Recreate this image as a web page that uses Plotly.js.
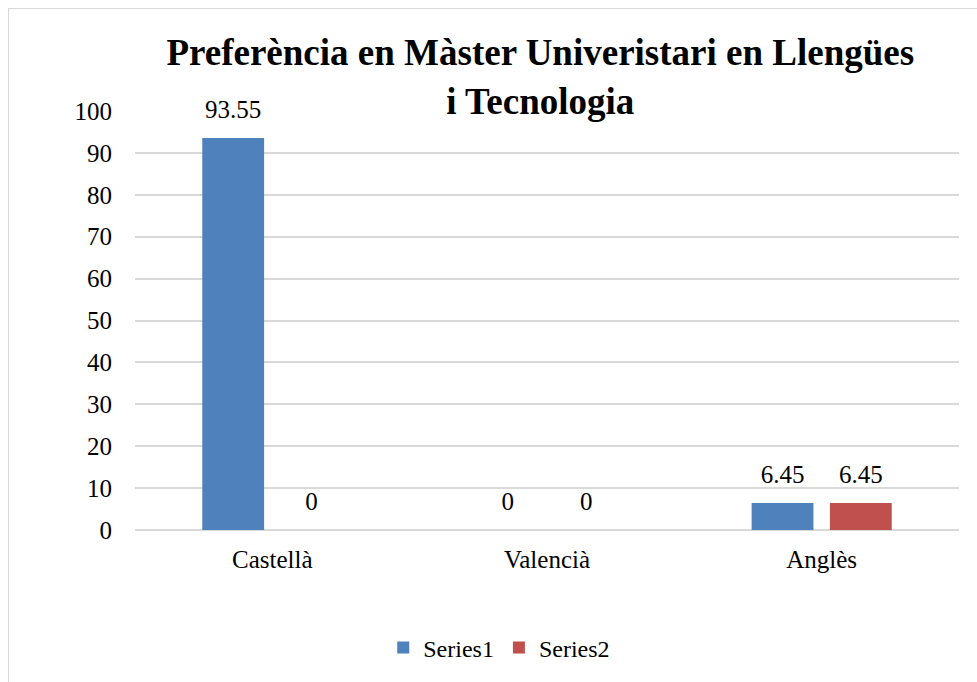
<!DOCTYPE html>
<html>
<head>
<meta charset="utf-8">
<script src="https://cdn.plot.ly/plotly-3.0.1.min.js"></script>
<style>
  html, body { margin: 0; padding: 0; background: #fff; overflow: hidden; }
  #chart { position: absolute; left: 0; top: 0; width: 977px; height: 682px; }
  #frame { position: absolute; left: 8px; top: 8px; width: 1000px; height: 700px; border: 1px solid #d9d9d9; pointer-events: none; }
</style>
</head>
<body>
<div id="chart"></div>
<div id="frame"></div>
<script>
const categories = ["Castellà", "Valencià", "Anglès"];
const series1 = [93.55, 0, 6.45];
const series2 = [0, 0, 6.45];
const seriesNames = ["Series1", "Series2"];
const seriesColors = ["#4F81BD", "#C0504D"];
const yTicks = [0, 10, 20, 30, 40, 50, 60, 70, 80, 90, 100];
const titleText = "Preferència en Màster Univeristari en Llengües<br>i Tecnologia";

const FONT = "Liberation Serif";

const barTraces = [series1, series2].map((vals, i) => ({
  type: "bar",
  name: seriesNames[i],
  x: categories,
  y: vals,
  offsetgroup: String(i),
  marker: { color: seriesColors[i] },
  hoverinfo: "x+y"
}));

const labelTraces = [series1, series2].map((vals, i) => ({
  type: "scatter",
  mode: "markers+text",
  x: categories,
  y: vals,
  offsetgroup: String(i),
  marker: { size: 20, color: "rgba(0,0,0,0)" },
  text: vals.map(v => String(v)),
  textposition: "top center",
  textfont: { family: FONT, size: 25, color: "#000" },
  cliponaxis: false,
  showlegend: false,
  hoverinfo: "skip"
}));

const layout = {
  width: 977,
  height: 682,
  margin: { l: 134.5, r: 17.5, t: 111, b: 152 },
  paper_bgcolor: "#fff",
  plot_bgcolor: "#fff",
  font: { family: FONT, size: 25, color: "#000" },
  barmode: "group",
  bargap: 0.43,
  bargroupgap: 0.21,
  scattermode: "group",
  scattergap: 0.43,
  title: {
    text: titleText,
    font: { family: FONT, size: 37, color: "#000", weight: "bold" },
    xref: "container", x: 0.553, xanchor: "center",
    yref: "container", y: 0.904, yanchor: "top"
  },
  xaxis: {
    type: "category",
    showgrid: false,
    showline: false,
    zeroline: false,
    ticks: "",
    tickfont: { family: FONT, size: 25, color: "#000" },
    ticklabelstandoff: 12
  },
  yaxis: {
    range: [0, 100],
    tickvals: yTicks,
    ticktext: yTicks.map(String),
    showgrid: true,
    gridcolor: "#d9d9d9",
    gridwidth: 2,
    zeroline: true,
    zerolinecolor: "#d9d9d9",
    zerolinewidth: 2,
    showline: false,
    ticks: "",
    tickfont: { family: FONT, size: 25, color: "#000" },
    ticklabelstandoff: 22
  },
  showlegend: true,
  legend: {
    orientation: "h",
    xref: "container", x: 0.511, xanchor: "center",
    yref: "container", y: 0.05, yanchor: "middle",
    font: { family: FONT, size: 24, color: "#000" },
    itemwidth: 30
  }
};

Plotly.newPlot("chart", barTraces.concat(labelTraces), layout, { displayModeBar: false, staticPlot: true });
</script>
</body>
</html>
